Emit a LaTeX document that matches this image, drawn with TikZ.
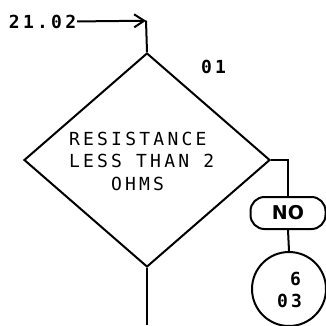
\documentclass[tikz,border=0pt]{standalone}
\usepackage{fontspec}
\newfontfamily\plotfont[LetterSpace=18]{DejaVu Sans Mono}
\newfontfamily\nofont{DejaVu Sans}
\usetikzlibrary{arrows.meta,shapes.geometric}
\begin{document}
\begin{tikzpicture}[x=1pt,y=-1pt,line width=2pt,
  txt/.style={font=\plotfont\fontsize{18}{20}\selectfont,inner sep=0pt,anchor=base west},
  btxt/.style={font=\plotfont\bfseries\fontsize{18}{20}\selectfont,inner sep=0pt,anchor=base west},
  decision/.style={draw,diamond,minimum width=246pt,minimum height=214pt,inner sep=0pt},
  term/.style={draw,rounded corners=14pt,minimum width=75pt,minimum height=32pt,inner sep=0pt,
    font=\nofont\bfseries\fontsize{19}{20}\selectfont},
  conn/.style={draw,circle,minimum size=74pt,inner sep=0pt},
  arr/.style={-{Straight Barb[length=10pt,width=13pt]}}]
\useasboundingbox (0,0) rectangle (326,325);
\node[btxt] (src) at (8,28) {21.02};
\coordinate (corner) at (146,20.7);
\node[decision] (d) at (147,160) {};
\node[txt] (l1) at (68,145) {RESISTANCE};
\node[txt] (l2) at (68,167) {LESS THAN 2};
\node[txt] (l3) at (110,190) {OHMS};
\node[btxt] (id) at (200,73) {01};
\node[term] (no) at (288,213) {NO};
\node[conn] (c) at (289,289) {};
\node[btxt] (c6) at (289,285) {6};
\node[btxt] (c03) at (276,307) {03};
\coordinate (out) at (147,325);
\draw[arr] (src.east) -- (corner);
\draw (corner) -- (d.north);
\draw (d.east) -| (no.north);
\draw (no.south) -- (c.north);
\draw (d.south) -- (out);
\end{tikzpicture}
\end{document}
